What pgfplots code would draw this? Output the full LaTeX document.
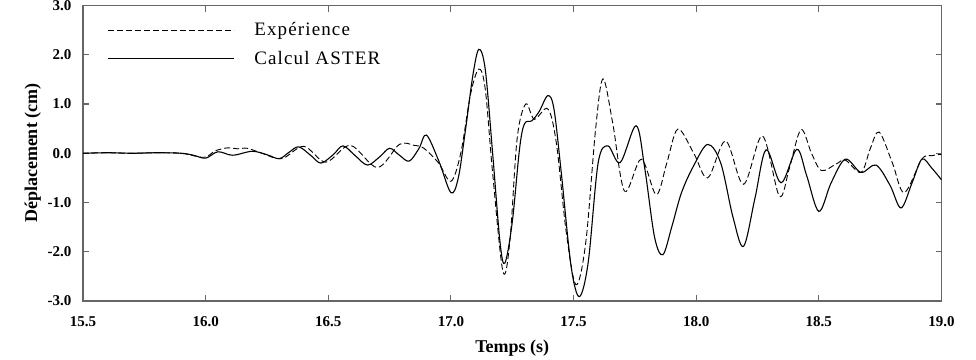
\documentclass[border=0pt]{standalone}
\usepackage{fontspec}
\setmainfont{Liberation Serif}
\usepackage{pgfplots}
\pgfplotsset{compat=1.18}
\newfontfamily\legfont[LetterSpace=6]{Liberation Serif}

\begin{document}
\begin{tikzpicture}[x=1pt,y=1pt]
\begin{axis}[
  at={(83pt,58pt)}, anchor=south west,
  width=858.5pt, height=295.5pt, scale only axis,
  xmin=15.5, xmax=19, ymin=-3, ymax=3,
  xtick={15.5,16,16.5,17,17.5,18,18.5,19},
  ytick={-3,-2,-1,0,1,2,3},
  tick align=inside,
  major tick length=6pt,
  axis line style={black!60, line width=1.2pt},
  tick style={black!60, line width=1.1pt},
  /pgf/number format/assume math mode=true,
  xticklabel style={font=\bfseries\fontsize{15}{15}\selectfont, yshift=-12pt,
    /pgf/number format/.cd, fixed, fixed zerofill, precision=1},
  yticklabel style={font=\bfseries\fontsize{15}{15}\selectfont, xshift=-8pt,
    /pgf/number format/.cd, fixed, fixed zerofill, precision=1},
  xlabel={Temps (s)},
  ylabel={Déplacement (cm)},
  xlabel style={font=\bfseries\fontsize{18}{18}\selectfont, yshift=-6pt},
  ylabel style={font=\bfseries\fontsize{18}{18}\selectfont, yshift=0pt},
  legend cell align=left,
  legend style={draw=none, fill=none, anchor=north west,
    font=\legfont\fontsize{19}{19}\selectfont, row sep=10pt, inner sep=0pt,
    legend columns=1, at={(rel axis cs:0,1)}, xshift=24pt, yshift=-15pt},
  legend image code/.code={\draw[#1] (0pt,0pt) -- (126pt,0pt); \path (144pt,0pt);},
]
\addplot[black, line width=0.9pt, dash pattern=on 6pt off 3pt, smooth, tension=0.55] coordinates {
(15.50,0.00) (15.60,0.01) (15.70,0.00) (15.80,0.01) (15.90,0.00) (15.96,-0.06)
(16.00,-0.08) (16.04,0.05) (16.09,0.11) (16.13,0.09) (16.17,0.10) (16.23,0.00)
(16.31,-0.11) (16.40,0.14) (16.49,-0.18) (16.59,0.16) (16.70,-0.29) (16.79,0.18)
(16.85,0.16) (16.89,0.10) (16.95,-0.20) (17.00,-0.57) (17.04,0.00) (17.08,1.20)
(17.114,1.71) (17.14,1.30) (17.17,-0.40) (17.212,-2.40) (17.24,-1.80) (17.27,0.30)
(17.305,1.00) (17.34,0.69) (17.395,0.90) (17.43,0.20) (17.47,-1.60) (17.51,-2.67)
(17.55,-1.80) (17.59,0.50) (17.62,1.51) (17.66,0.60) (17.708,-0.77) (17.776,-0.12)
(17.837,-0.84) (17.88,-0.20) (17.925,0.49) (17.99,0.00) (18.047,-0.50) (18.12,0.25)
(18.193,-0.63) (18.27,0.35) (18.339,-0.87) (18.38,-0.30) (18.427,0.48) (18.47,0.00)
(18.51,-0.35) (18.57,-0.22) (18.608,-0.14) (18.672,-0.39) (18.71,0.10) (18.746,0.43)
(18.80,-0.20) (18.848,-0.80) (18.92,-0.12) (18.96,-0.05) (19.00,-0.02)
};
\addlegendentry{Expérience}
\addplot[black, line width=1.1pt, smooth, tension=0.55] coordinates {
(15.50,0.00) (15.60,0.01) (15.70,0.00) (15.80,0.01) (15.90,0.00) (15.95,-0.04)
(16.00,-0.10) (16.05,0.03) (16.11,-0.04) (16.19,0.04) (16.25,-0.03) (16.30,-0.11)
(16.34,0.02) (16.38,0.13) (16.43,-0.05) (16.47,-0.20) (16.52,-0.03) (16.56,0.15)
(16.61,-0.05) (16.66,-0.24) (16.71,-0.07) (16.75,0.10) (16.79,-0.04) (16.83,-0.16)
(16.87,0.10) (16.90,0.37) (16.95,-0.15) (17.00,-0.80) (17.03,-0.50) (17.06,0.50)
(17.09,1.60) (17.114,2.11) (17.14,1.70) (17.17,0.00) (17.20,-1.80) (17.22,-2.23)
(17.25,-1.40) (17.28,0.10) (17.30,0.60) (17.33,0.66) (17.36,0.85) (17.395,1.17)
(17.42,0.90) (17.45,-0.40) (17.49,-2.30) (17.524,-2.91) (17.56,-2.20) (17.60,-0.20)
(17.64,0.15) (17.69,-0.19) (17.755,0.56) (17.79,-0.30) (17.83,-1.70) (17.864,-2.06)
(17.90,-1.50) (17.94,-0.80) (17.99,-0.25) (18.047,0.18) (18.10,-0.20) (18.15,-1.30)
(18.193,-1.89) (18.24,-0.90) (18.285,0.07) (18.346,-0.60) (18.41,0.08) (18.45,-0.45)
(18.50,-1.18) (18.55,-0.60) (18.608,-0.12) (18.672,-0.39) (18.733,-0.24) (18.79,-0.65)
(18.835,-1.11) (18.88,-0.60) (18.92,-0.12) (18.96,-0.30) (19.00,-0.54)
};
\addlegendentry{Calcul ASTER}
\end{axis}
\pgfresetboundingbox
\useasboundingbox (0,0) rectangle (976,359);
\end{tikzpicture}
\end{document}
